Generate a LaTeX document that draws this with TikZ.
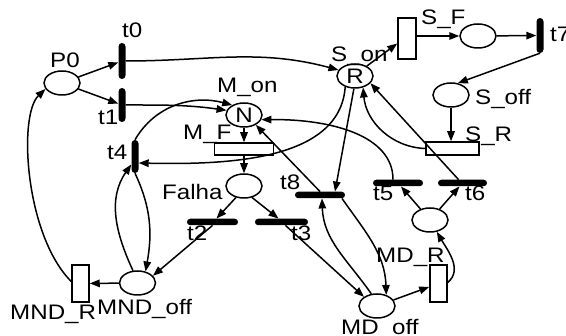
\documentclass[tikz,border=0pt]{standalone}
\usepackage{fontspec}
\setmainfont{Liberation Sans}[FakeStretch=1.15]
\usetikzlibrary{shapes.geometric,arrows.meta}
\begin{document}
\begin{tikzpicture}[x=1pt,y=-1pt,
  place/.style={ellipse,draw,line width=1.5pt,minimum width=36pt,minimum height=24pt,inner sep=0pt,font=\fontsize{21}{24}\selectfont},
  vbar/.style={rectangle,fill=black,minimum width=7pt,minimum height=#1,inner sep=0pt,rounded corners=3.5pt},
  hbar/.style={rectangle,fill=black,minimum height=6.5pt,minimum width=#1,inner sep=0pt,rounded corners=3.2pt},
  box/.style={rectangle,draw,line width=1.5pt,inner sep=0pt},
  lbl/.style={anchor=base west,inner sep=0pt,font=\fontsize{21}{24}\selectfont},
  arc/.style={line width=1.5pt,-{Triangle[length=10pt,width=7.5pt]}},
]
\useasboundingbox (0,0) rectangle (566,336);
% places
\node[place] (P0) at (62,83) {};
\node[place] (N) at (244,115) {N};
\node[place] (R) at (355,76) {R};
\node[place] (Falha) at (244,186) {};
\node[place] (U) at (430,220) {};
\node[place] (MDoff) at (377,306) {};
\node[place] (MNDoff) at (137.5,283) {};
\node[place] (SFP) at (478,36) {};
\node[place] (Soff) at (451,95) {};
% transitions
\node[vbar=36pt] (t0) at (122,61) {};
\node[vbar=34pt] (t1) at (122,105) {};
\node[vbar=33pt] (t4) at (135,156.5) {};
\node[vbar=35pt] (t7) at (540,35.5) {};
\node[hbar=51pt] (t2) at (212.5,222) {};
\node[hbar=53pt] (t3) at (281.5,222) {};
\node[hbar=50pt] (t8) at (320,195) {};
\node[hbar=50pt] (t5) at (398,183) {};
\node[hbar=49pt] (t6) at (462.5,183) {};
\node[box,minimum width=59pt,minimum height=12pt] (MF) at (244,149) {};
\node[box,minimum width=17pt,minimum height=37pt] (MDR) at (438.5,283.5) {};
\node[box,minimum width=17pt,minimum height=37pt] (MNDR) at (80.5,283.5) {};
\node[box,minimum width=18pt,minimum height=41pt] (SF) at (407,38.5) {};
\node[box,minimum width=53pt,minimum height=13pt] (SR) at (452.5,148.5) {};
% labels
\node[lbl] (lP0) at (50,68) {P0};
\node[lbl] (lt0) at (122,38) {t0};
\node[lbl] (lt1) at (98,125) {t1};
\node[lbl] (lMon) at (217,93) {M\_on};
\node[lbl] (lSon) at (331,62) {S\_on};
\node[lbl] (lMF) at (183,140) {M\_F};
\node[lbl] (lt4) at (107,160) {t4};
\node[lbl] (lFalha) at (162,200) {Falha};
\node[lbl] (lt2) at (187,241) {t2};
\node[lbl] (lt3) at (291,241) {t3};
\node[lbl] (lt8) at (280,190) {t8};
\node[lbl] (lt5) at (373,201) {t5};
\node[lbl] (lt6) at (465,201) {t6};
\node[lbl] (lMDR) at (376,263) {MD\_R};
\node[lbl] (lMDoff) at (341,335) {MD\_off};
\node[lbl] (lMNDoff) at (97,315) {MND\_off};
\node[lbl] (lMNDR) at (10,320) {MND\_R};
\node[lbl] (lSF) at (421,25) {S\_F};
\node[lbl] (lt7) at (550,42) {t7};
\node[lbl] (lSoff) at (475,105) {S\_off};
\node[lbl] (lSR) at (465,142) {S\_R};
% arcs
\draw[arc] (P0) -- (t0);
\draw[arc] (P0) -- (t1);
\draw[arc] (t0.east) to[out=0,in=165] (R.160);
\draw[arc] (t1.east) to[out=0,in=172] (N.165);
\draw[arc] (t4.north) to[out=60,in=165] (N.140);
\draw[arc] (R.228) .. controls (340,160) and (230,165) .. ([yshift=-6.5pt]t4.east);
\draw[arc] (N) -- (MF);
\draw[arc] (MF) -- (Falha);
\draw[arc] ([xshift=-5pt]t5.north) .. controls (393,135) and (330,119) .. (N.-15);
\draw[arc] ([xshift=-4pt]t6.north) -- (R.-25);
\draw[arc] (SR.west) to[out=178,in=-85] (R.-55);
\draw[arc] (R.265) -- ([xshift=15pt]t8.north);
\draw[arc] (t8.north) -- (N.-40);
\draw[arc] (MDoff.115) to[out=125,in=-88] ([xshift=2pt]t8.south);
\draw[arc] ([xshift=22pt]t8.south) to[out=-55,in=92] (MDoff.50);
\draw[arc] (Falha.235) -- ([xshift=4pt]t2.north);
\draw[arc] (Falha.-55) -- ([xshift=-3pt]t3.north);
\draw[arc] (t2.south) -- (MNDoff.25);
\draw[arc] ([xshift=4pt]t3.south) -- (MDoff.145);
\draw[arc] (t4.south) to[out=-65,in=80] (MNDoff.55);
\draw[arc] (MNDoff.110) to[out=115,in=-125] ([yshift=-8pt]t4.west);
\draw[arc] (MNDoff) -- (MNDR);
\draw[arc] ([yshift=2pt]MNDR.west) .. controls (25,235) and (18,115) .. (P0.200);
\draw[arc] (MDoff) -- (MDR);
\draw[arc] ([yshift=1pt]MDR.east) to[out=40,in=-60] (U.-60);
\draw[arc] (U) -- (t5);
\draw[arc] (U) -- (t6);
\draw[arc] (Soff) -- (Soff |- SR.north);
\draw[arc] (t7.south) -- (Soff.60);
\draw[arc] (SFP) -- (t7);
\draw[arc] (SF.east |- SFP) -- (SFP);
\draw[arc] (R.40) -- ([yshift=-5pt]SF.west);
\end{tikzpicture}
\end{document}
